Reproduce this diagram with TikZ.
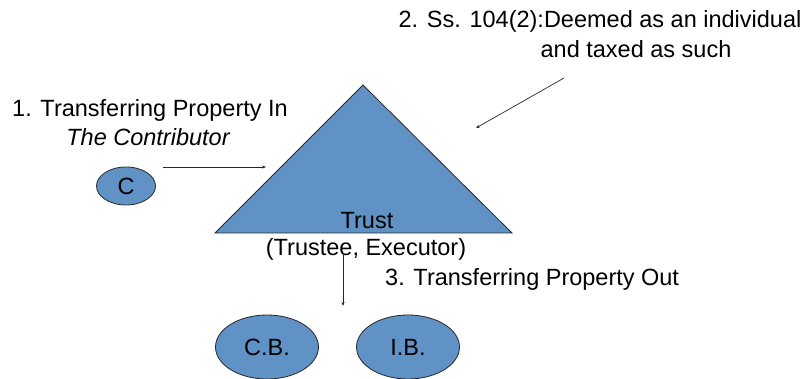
\documentclass[tikz,border=0pt]{standalone}
\usepackage{fontspec}
\setmainfont{Liberation Sans}
\usetikzlibrary{shapes.geometric,arrows.meta}
\definecolor{tblue}{RGB}{96,146,198}
\definecolor{tline}{RGB}{40,40,40}
\tikzset{
  lbl/.style={font=\fontsize{23.5}{26}\selectfont, inner sep=0pt, anchor=center},
  oval/.style={ellipse, draw=tline, line width=0.8pt, fill=tblue, inner sep=0pt, font=\fontsize{23.5}{26}\selectfont},
  arr/.style={draw=tline, line width=0.7pt, -{Stealth[length=4pt,width=3pt]}}
}
\begin{document}
\begin{tikzpicture}[x=1pt,y=-1pt]
\useasboundingbox (0,0) rectangle (808,379);
% triangle
\coordinate (apex) at (363,85);
\coordinate (bl) at (215,233);
\coordinate (br) at (512,233);
\draw[fill=tblue, draw=tline, line width=0.8pt] (apex) -- (br) -- (bl) -- cycle;
\node[lbl] (trust) at (367,221) {Trust};
\node[lbl] (trustee) at (366,249) {(Trustee, Executor)};
% C
\node[oval, minimum width=59pt, minimum height=38pt] (c) at (126,186) {C};
\node[lbl, anchor=west] (t1) at (12,110) {1. Transferring Property In};
\node[lbl] (t1b) at (148,137) {\itshape The Contributor};
\coordinate (a1s) at (163,167);
\coordinate (a1e) at (266,167);
\draw[arr] (a1s) -- (a1e);
% text 2
\node[lbl] (t2) at (600,21) {2. Ss. 104(2):Deemed as an individual};
\node[lbl] (t2b) at (636,49) {and taxed as such};
\coordinate (a2s) at (564,78);
\coordinate (a2e) at (476,128);
\draw[arr] (a2s) -- (a2e);
% text 3
\node[lbl, anchor=west] (t3) at (385,279) {3. Transferring Property Out};
\coordinate (a3s) at (343,253);
\coordinate (a3e) at (343,306);
\draw[arr] (a3s) -- (a3e);
% beneficiaries
\node[oval, minimum width=103pt, minimum height=64pt] (cb) at (267,347) {C.B.};
\node[oval, minimum width=103pt, minimum height=64pt] (ib) at (408,347) {I.B.};
\end{tikzpicture}
\end{document}
